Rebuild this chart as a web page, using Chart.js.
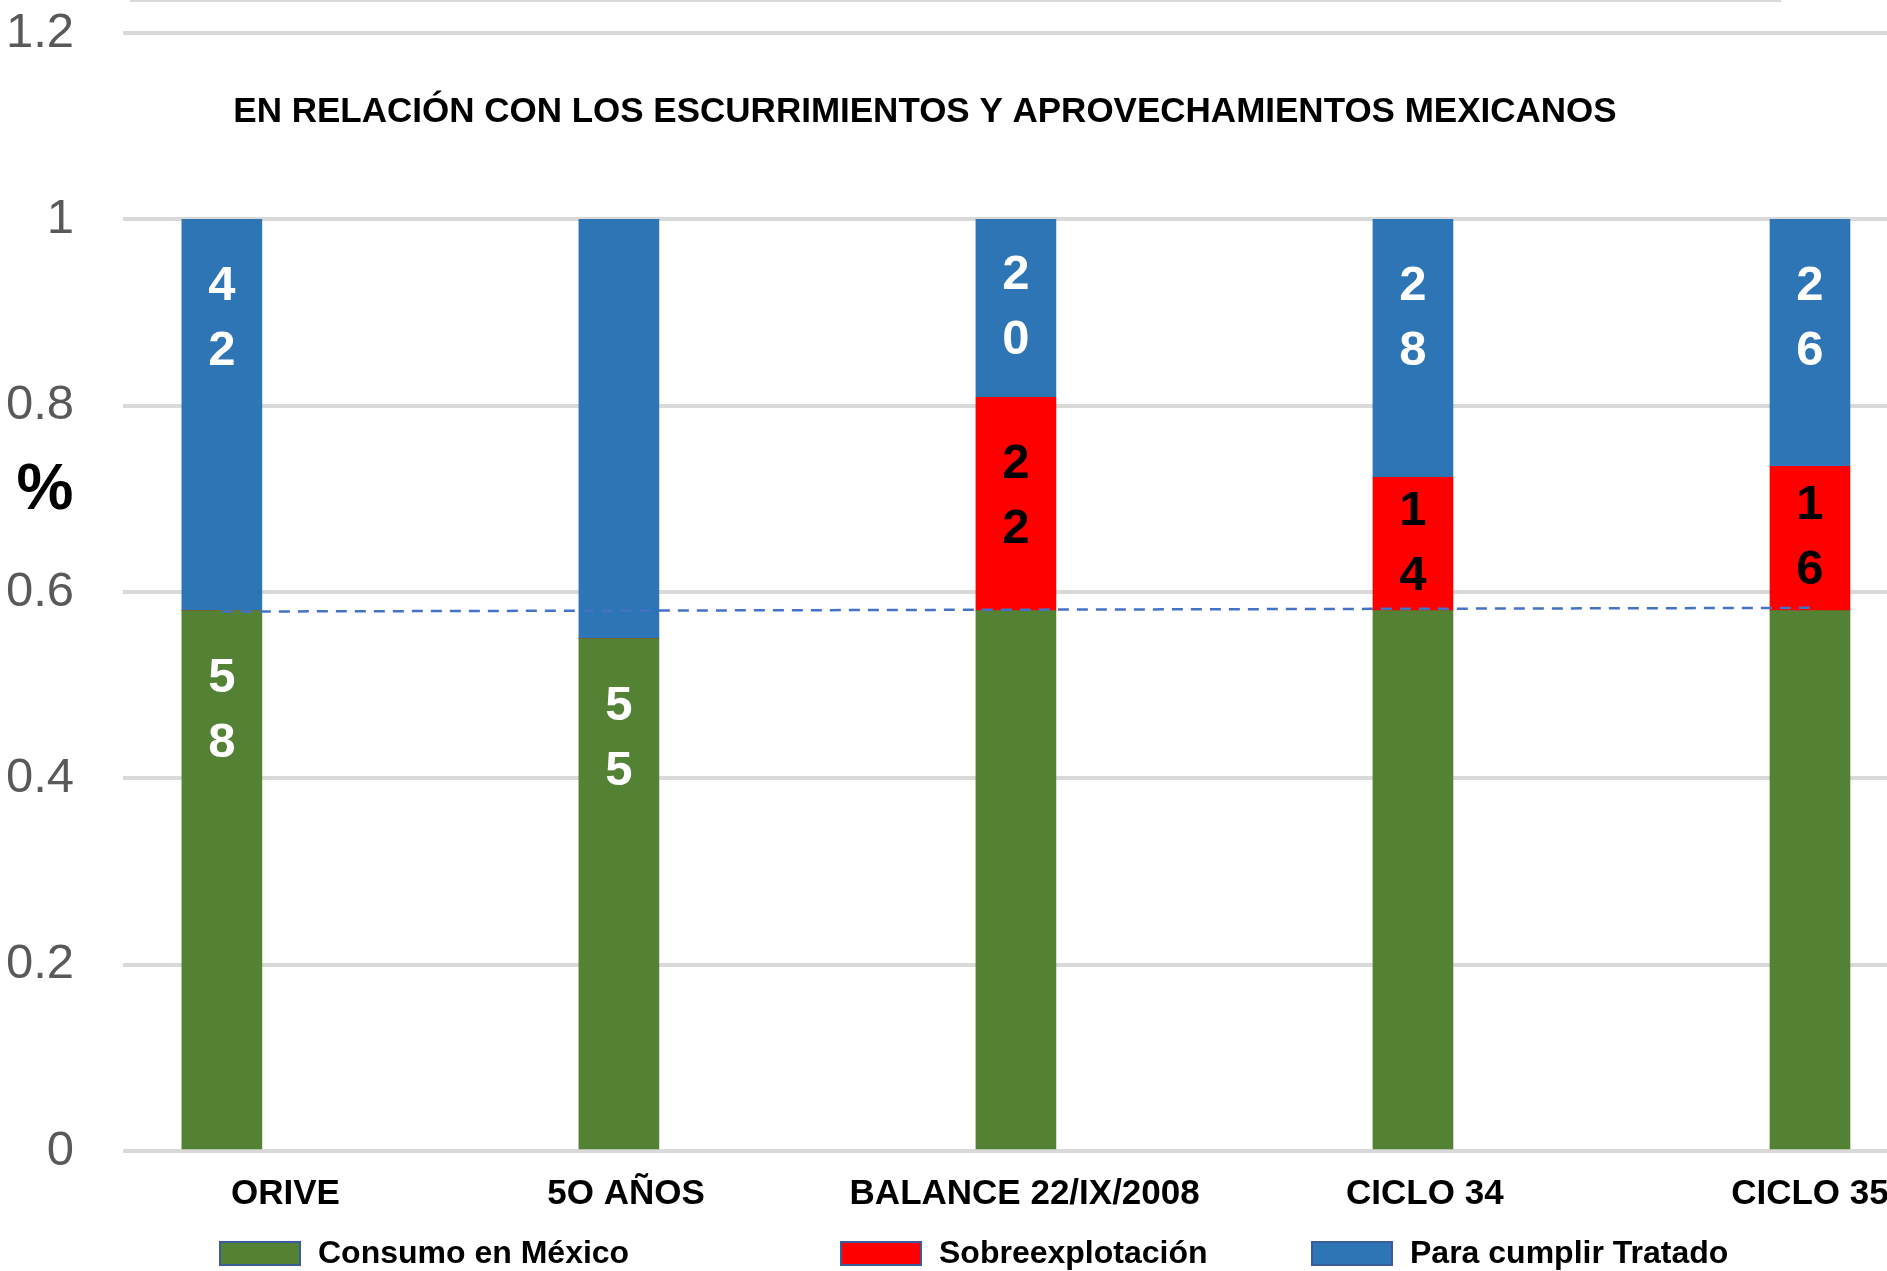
<!DOCTYPE html>
<html>
<head>
<meta charset="utf-8">
<script src="https://cdn.jsdelivr.net/npm/chart.js@4.4.1/dist/chart.umd.min.js"></script>
<style>
  html, body { margin: 0; padding: 0; background: #ffffff; }
  canvas { display: block; }
</style>
</head>
<body>
<canvas id="c" width="1887" height="1271"></canvas>
<script>
// ---------- data ----------
const categories = ['ORIVE', '5O AÑOS', 'BALANCE 22/IX/2008', 'CICLO 34', 'CICLO 35'];
const seriesNames = ['Consumo en México', 'Sobreexplotación', 'Para cumplir Tratado'];
const consumo = [0.58, 0.55, 0.58, 0.58, 0.58];
const sobreexplotacion = [0, 0, 0.229, 0.143, 0.155];
const tratado = [0.42, 0.45, 0.191, 0.277, 0.265];
const consumoLabels = ['58', '55', '', '', ''];
const sobreLabels = ['', '', '22', '14', '16'];
const tratadoLabels = ['42', '', '20', '28', '26'];
const referencia = [0.579, null, null, null, 0.583];
const yTicks = [0, 0.2, 0.4, 0.6, 0.8, 1, 1.2];
const titleText = 'EN RELACIÓN CON LOS ESCURRIMIENTOS Y APROVECHAMIENTOS MEXICANOS';
const yAxisText = '%';

// ---------- styles / layout ----------
const GREEN = '#548235', RED = '#FF0000', BLUE = '#2E75B6';
const SANS = "'Liberation Sans', Arial, sans-serif";
const NARROW = "'Liberation Sans Narrow', 'Liberation Sans', Arial, sans-serif";
// small horizontal nudges of the category labels (in category units), as in the original layout
const labelNudge = [0.16, 0.018, 0.022, 0.03, 0];

const toXY = arr => arr.map((v, i) => ({ x: i, y: v }));

const overlay = {
  id: 'overlay',
  afterDatasetsDraw(chart) {
    const ctx = chart.ctx;
    ctx.save();
    chart.data.datasets.forEach((ds, di) => {
      if (!ds.valueLabels) return;
      const meta = chart.getDatasetMeta(di);
      meta.data.forEach((el, i) => {
        const txt = ds.valueLabels[i];
        if (!txt) return;
        const top = Math.min(el.y, el.base), bottom = Math.max(el.y, el.base);
        const cy = Math.min(top + 100, (top + bottom) / 2);
        const chars = txt.split('');
        const lh = 65;
        ctx.font = "bold 49px " + SANS;
        ctx.fillStyle = ds.valueLabelColor;
        ctx.textAlign = 'center';
        ctx.textBaseline = 'middle';
        chars.forEach((c, k) => {
          ctx.fillText(c, el.x, cy + (k - (chars.length - 1) / 2) * lh);
        });
      });
    });
    ctx.restore();
  },
  afterDraw(chart) {
    const ctx = chart.ctx;
    const ys = chart.scales.y;
    ctx.save();
    // faint frame line at very top
    ctx.strokeStyle = '#d9d9d9';
    ctx.lineWidth = 2;
    ctx.beginPath(); ctx.moveTo(130, 1); ctx.lineTo(1781, 1); ctx.stroke();
    // title inside plot
    ctx.fillStyle = '#000';
    ctx.font = "bold 35px " + SANS;
    ctx.textAlign = 'center';
    ctx.textBaseline = 'middle';
    ctx.fillText(titleText, 925, ys.getPixelForValue(1.115));
    // % axis label
    ctx.font = "bold 64px " + SANS;
    ctx.fillText(yAxisText, 45, ys.getPixelForValue(0.708));
    // legend
    const bars = chart.data.datasets.filter(d => d.type === 'bar');
    const starts = [220, 841, 1312];
    ctx.font = "bold 32px " + SANS;
    ctx.textAlign = 'left';
    bars.forEach((d, k) => {
      const x = starts[k], y = 1242;
      ctx.fillStyle = d.backgroundColor;
      ctx.fillRect(x, y, 80, 23);
      ctx.strokeStyle = '#3A5C9A';
      ctx.lineWidth = 2;
      ctx.strokeRect(x, y, 80, 23);
      ctx.fillStyle = '#000';
      ctx.fillText(d.label, x + 98, y + 12);
    });
    ctx.restore();
  }
};

new Chart(document.getElementById('c'), {
  data: {
    datasets: [
      {
        type: 'line',
        label: 'referencia',
        data: toXY(referencia),
        borderColor: '#4472C4',
        borderWidth: 2.5,
        borderDash: [11, 8],
        pointRadius: 0,
        spanGaps: true,
        fill: false,
        order: 0
      },
      {
        type: 'bar', label: seriesNames[0], data: toXY(consumo),
        backgroundColor: GREEN, barThickness: 80, order: 1,
        valueLabels: consumoLabels, valueLabelColor: '#ffffff'
      },
      {
        type: 'bar', label: seriesNames[1], data: toXY(sobreexplotacion),
        backgroundColor: RED, barThickness: 80, order: 1,
        valueLabels: sobreLabels, valueLabelColor: '#000000'
      },
      {
        type: 'bar', label: seriesNames[2], data: toXY(tratado),
        backgroundColor: BLUE, barThickness: 80, order: 1,
        valueLabels: tratadoLabels, valueLabelColor: '#ffffff'
      }
    ]
  },
  options: {
    responsive: false,
    animation: false,
    devicePixelRatio: 1,
    layout: { padding: { top: 33, bottom: 60, left: 0, right: 0 } },
    plugins: {
      legend: { display: false },
      title: { display: false },
      tooltip: { enabled: false }
    },
    scales: {
      x: {
        type: 'linear',
        min: -0.249,
        max: 4.194,
        stacked: true,
        offset: false,
        grid: { display: false, drawTicks: false },
        border: { display: false },
        afterBuildTicks: s => { s.ticks = categories.map((_, i) => ({ value: i + labelNudge[i], label: categories[i] })); },
        afterFit: s => { s.height = 60; s.paddingLeft = 0; s.paddingRight = 0; },
        ticks: {
          autoSkip: false,
          maxRotation: 0,
          minRotation: 0,
          padding: 22,
          color: '#000',
          font: { family: SANS, size: 35, weight: 'bold' },
          callback: (v, i) => categories[i] ?? ''
        }
      },
      y: {
        min: 0,
        max: 1.2,
        stacked: true,
        afterBuildTicks: s => { s.ticks = yTicks.map(v => ({ value: v })); },
        afterFit: s => { s.width = 123; s.paddingTop = 0; s.paddingBottom = 0; },
        grid: { color: '#d9d9d9', lineWidth: 4, drawTicks: false },
        border: { display: false },
        ticks: {
          padding: 49,
          color: '#595959',
          font: { family: NARROW, size: 49 },
          callback: v => String(+Number(v).toFixed(2))
        }
      }
    }
  },
  plugins: [overlay]
});
</script>
</body>
</html>
